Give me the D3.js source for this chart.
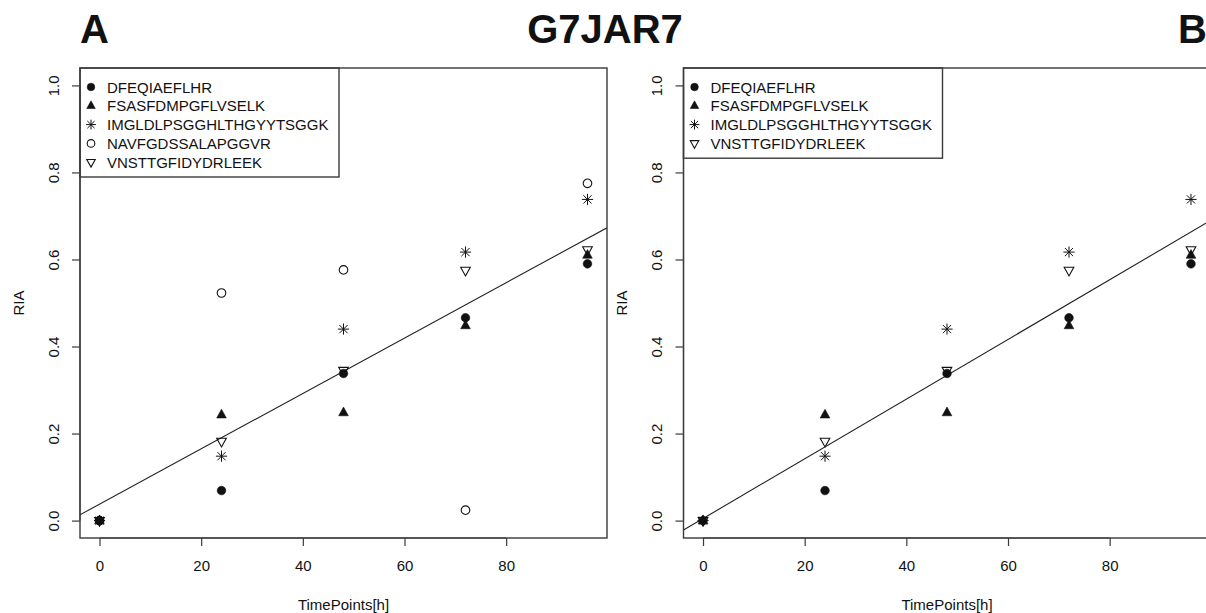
<!DOCTYPE html>
<html>
    <head>
        <meta charset="utf-8">
        <style>
            body {
                margin: 0;
                background: #fff;
                font-family: "Liberation Sans", Arial, Helvetica, sans-serif;
            }
            text { fill: #111; }
            .frame { fill: none; stroke: #3a3a3a; stroke-width: 1.4; }
            .fit-line { stroke: #222; stroke-width: 1.1; fill: none; }
            .axis path, .axis line { stroke: #3a3a3a; stroke-width: 1.2; }
            .axis text { font-size: 15px; }
        </style>
    </head>
    <body>
        <script src="https://d3js.org/d3.v7.min.js"></script>

        <script>
            // data
            const timePoints = [0, 24, 48, 72, 96];
            const peptideNames = ["DFEQIAEFLHR", "FSASFDMPGFLVSELK", "IMGLDLPSGGHLTHGYYTSGGK", "NAVFGDSSALAPGGVR", "VNSTTGFIDYDRLEEK"];
            const riaDFEQ = [0, 0.069, 0.338, 0.466, 0.590];
            const riaFSAS = [0, 0.243, 0.248, 0.448, 0.610];
            const riaIMGL = [0, 0.148, 0.440, 0.617, 0.738];
            const riaNAVF = [0, 0.523, 0.576, 0.024, 0.775];
            const riaVNST = [0, 0.182, 0.345, 0.575, 0.622];
            const xTicks = [0, 20, 40, 60, 80];
            const yTicks = [0, 0.2, 0.4, 0.6, 0.8, 1.0];
            const panelA = ["DFEQIAEFLHR", "FSASFDMPGFLVSELK", "IMGLDLPSGGHLTHGYYTSGGK", "NAVFGDSSALAPGGVR", "VNSTTGFIDYDRLEEK"];
            const panelB = ["DFEQIAEFLHR", "FSASFDMPGFLVSELK", "IMGLDLPSGGHLTHGYYTSGGK", "VNSTTGFIDYDRLEEK"];

            const seriesValues = [riaDFEQ, riaFSAS, riaIMGL, riaNAVF, riaVNST];
            const pch = ["dot", "tri", "star", "ring", "down"];

            const width = 1206;
            const height = 613;
            const panelW = 527;
            const plotTop = 68, plotBottom = 538;

            const svg = d3.select("body").append("svg")
                .attr("width", width)
                .attr("height", height);

            // R style plotting symbols
            function symbolPath(kind, r) {
                const p = d3.path();
                if (kind === "dot" || kind === "ring") {
                    p.arc(0, 0, r, 0, 2 * Math.PI);
                } else if (kind === "tri") {
                    const hw = r * 1.12, up = r * 1.3, dn = r * 0.72;
                    p.moveTo(0, -up); p.lineTo(hw, dn); p.lineTo(-hw, dn); p.closePath();
                } else if (kind === "down") {
                    const hw = r * 1.12, up = r * 1.3, dn = r * 0.72;
                    p.moveTo(0, up); p.lineTo(hw, -dn); p.lineTo(-hw, -dn); p.closePath();
                } else if (kind === "star") {
                    const d = r * 1.3, e = r * 0.95;
                    p.moveTo(-d, 0); p.lineTo(d, 0);
                    p.moveTo(0, -d); p.lineTo(0, d);
                    p.moveTo(-e, -e); p.lineTo(e, e);
                    p.moveTo(-e, e); p.lineTo(e, -e);
                }
                return p.toString();
            }
            function styleSymbol(sel, kind) {
                const filled = kind === "dot" || kind === "tri";
                sel.attr("fill", filled ? "#111" : "none")
                   .attr("stroke", "#111")
                   .attr("stroke-width", kind === "star" ? 1 : (filled ? 0.6 : 1.1));
            }

            function drawPanel(left, names) {
                const g = svg.append("g");
                const x = d3.scaleLinear().domain([-3.84, 99.84]).range([left, left + panelW]);
                const y = d3.scaleLinear().domain([-0.04, 1.04]).range([plotBottom, plotTop]);

                const clipId = "clip" + Math.round(left);
                svg.append("clipPath").attr("id", clipId)
                    .append("rect").attr("x", left).attr("y", plotTop)
                    .attr("width", panelW).attr("height", plotBottom - plotTop);

                // axes (R style)
                g.append("g").attr("class", "axis")
                    .attr("transform", "translate(0," + plotBottom + ")")
                    .call(d3.axisBottom(x).tickValues(xTicks).tickSize(8).tickPadding(14).tickSizeOuter(0))
                    .call(a => a.select(".domain").attr("d", "M" + x(0) + ",0H" + x(80)))
                    .call(a => a.selectAll("text").attr("font-family", null));

                const ya = g.append("g").attr("class", "axis")
                    .attr("transform", "translate(" + left + ",0)")
                    .call(d3.axisLeft(y).tickValues(yTicks).tickSize(8).tickFormat(d3.format(".1f")).tickSizeOuter(0))
                    .call(a => a.select(".domain").attr("d", "M0," + y(0) + "V" + y(1)));
                ya.selectAll(".tick text")
                    .attr("x", null).attr("dy", null).attr("font-family", null)
                    .attr("text-anchor", "middle")
                    .attr("transform", "translate(-21.5,0) rotate(-90)");

                // least squares fit over all points in the panel
                const pts = [];
                names.forEach(n => {
                    const vals = seriesValues[peptideNames.indexOf(n)];
                    timePoints.forEach((t, i) => pts.push([t, vals[i]]));
                });
                const mx = d3.mean(pts, d => d[0]), my = d3.mean(pts, d => d[1]);
                const slope = d3.sum(pts, d => (d[0] - mx) * (d[1] - my)) / d3.sum(pts, d => (d[0] - mx) ** 2);
                const icpt = my - slope * mx;
                const xd = x.domain();
                g.append("path")
                    .attr("class", "fit-line")
                    .attr("clip-path", "url(#" + clipId + ")")
                    .attr("d", d3.line().x(d => x(d)).y(d => y(icpt + slope * d))(xd));

                // points
                names.forEach(n => {
                    const k = peptideNames.indexOf(n);
                    const vals = seriesValues[k];
                    g.selectAll(null)
                        .data(timePoints.map((t, i) => [t, vals[i]]))
                        .join("path")
                        .attr("transform", d => "translate(" + x(d[0]) + "," + y(d[1]) + ")")
                        .attr("d", symbolPath(pch[k], 4.3))
                        .call(s => styleSymbol(s, pch[k]));
                });

                // legend
                const rowH = 18.8;
                const lg = g.append("g");
                lg.append("rect")
                    .attr("class", "frame")
                    .attr("fill", "#fff")
                    .attr("x", left).attr("y", plotTop)
                    .attr("width", 259).attr("height", names.length * rowH + 15);
                names.forEach((n, i) => {
                    const k = peptideNames.indexOf(n);
                    const cy = plotTop + 19 + i * rowH;
                    lg.append("path")
                        .attr("transform", "translate(" + (left + 11) + "," + cy + ")")
                        .attr("d", symbolPath(pch[k], 3.8))
                        .call(s => styleSymbol(s, pch[k]));
                    lg.append("text")
                        .attr("x", left + 27).attr("y", cy + 5.5)
                        .attr("font-size", 15)
                        .text(n);
                });

                // frame
                g.append("rect").attr("class", "frame")
                    .attr("x", left).attr("y", plotTop)
                    .attr("width", panelW).attr("height", plotBottom - plotTop);

                // axis titles
                g.append("text")
                    .attr("x", left + panelW / 2).attr("y", 610)
                    .attr("text-anchor", "middle").attr("font-size", 15)
                    .text("TimePoints[h]");
                g.append("text")
                    .attr("transform", "translate(" + (left - 56.5) + "," + ((plotTop + plotBottom) / 2) + ") rotate(-90)")
                    .attr("text-anchor", "middle").attr("font-size", 15)
                    .text("RIA");
            }

            drawPanel(80, panelA);
            drawPanel(683.5, panelB);

            // panel titles
            const heads = svg.append("g").attr("font-weight", "bold").attr("font-size", 40);
            heads.append("text").attr("x", 80).attr("y", 43).text("A");
            heads.append("text").attr("x", 605).attr("y", 43).attr("text-anchor", "middle").text("G7JAR7");
            heads.append("text").attr("x", 1178).attr("y", 43).text("B");
        </script>
    </body>
</html>
